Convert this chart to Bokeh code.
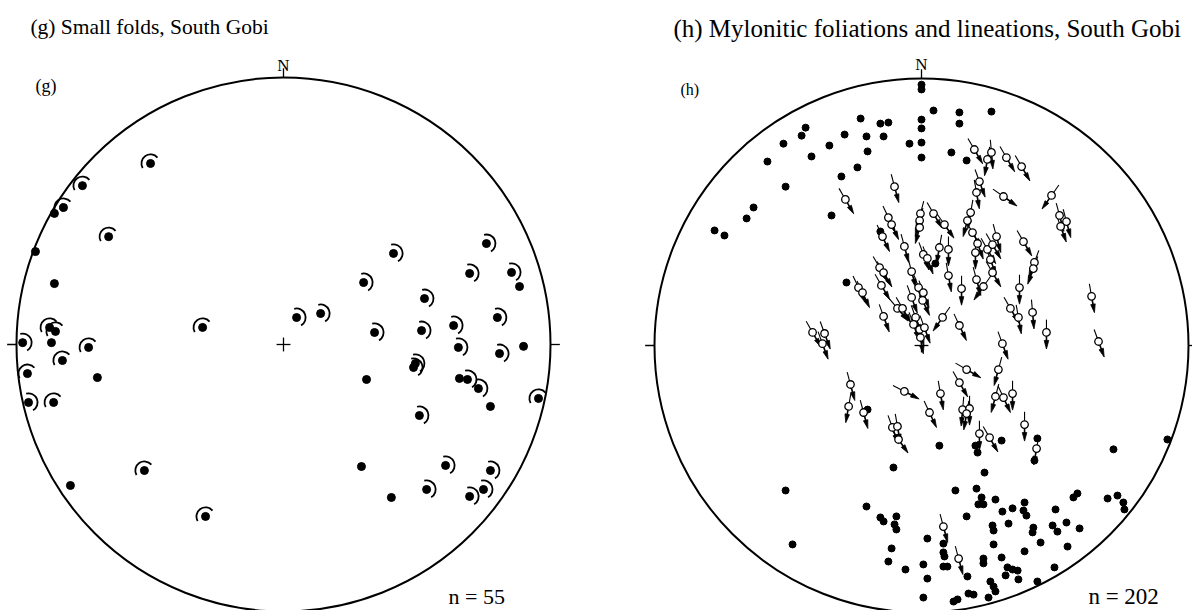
import math
from bokeh.plotting import figure
from bokeh.layouts import row
from bokeh.models import Range1d, ColumnDataSource
from bokeh.core.properties import value
from bokeh.embed import file_html
from bokeh.resources import INLINE

# ---------------- data (equal-area net coordinates, net radius = 100) ----------------
# (g) small folds: fold-axis positions and sense of vergence arc (L / R / "" = none)
g_east = [-49.8, -75.3, -82.4, -85.8, -65.5, -92.9, -85.8, -87.6, -85.4, -97.7,
          -86.9, -73.0, -82.8, -69.7, -95.9, -95.5, -86.1, -30.3, 4.9, 13.9,
          41.2, 30.0, 52.8, 34.1, 51.7, 63.7, 76.0, 69.7, 85.4, 88.4,
          80.1, 65.5, 80.9, 89.9, 48.7, 49.4, 31.1, 65.9, 68.9, 73.0,
          95.5, 77.5, 50.9, 29.2, 60.7, 77.5, 53.6, 40.4, 69.7, 74.9,
          -52.1, -79.8, -29.2]
g_north = [67.8, 59.5, 51.3, 49.1, 40.4, 34.8, 22.8, 6.4, 4.9, 0.7,
           0.7, -1.1, -6.0, -12.4, -10.9, -21.7, -21.7, 6.4, 10.1, 11.6,
           34.1, 23.2, 17.2, 4.5, 5.2, 7.1, 37.8, 26.6, 27.0, 21.7,
           10.1, -1.1, -3.4, -0.7, -8.6, -7.1, -13.1, -12.7, -13.1, -16.5,
           -20.2, -23.2, -26.6, -45.7, -45.3, -47.2, -54.3, -57.3, -56.9, -54.3,
           -47.2, -52.8, -64.4]
g_sense = ["L", "L", "L", "", "L", "", "", "L", "L", "R",
           "", "L", "L", "", "L", "R", "L", "L", "R", "R",
           "R", "R", "R", "R", "R", "R", "R", "R", "R", "",
           "R", "R", "R", "", "R", "R", "", "", "R", "R",
           "L", "", "R", "", "R", "R", "R", "", "R", "R",
           "L", "", "L"]

# (h) poles to mylonitic foliation
h_pole_east = [0, 0, 4.5, 14.2, 26.2, -22.8, -15.4, -12.4, 0, 14.2,
               -43.4, -44.9, -28.8, -20.6, -14.2, 0, -51.7, -34.5, -4.5, 0,
               -20.2, -57.7, -41.2, 0, 11.2, 16.9, -24.0, -30.0, -50.9, -62.9,
               -65.5, -33.7, -77.5, -73.8, -15.4, 5.2, -28.1,
               -20.2, 6.7, 30.0, 20.2, 21.0, 43.4, 42.3, -10.5, 23.6, 71.9,
               92.1, -50.9, 12.7, 20.6, 22.5, 21.3, 23.2, 27.7, 38.6, 38.2,
               39.3, 34.1, 30.3, 50.2, 58.4, 56.9, 69.7, 73.4, 75.6, 76.0,
               -20.6, -15.4, -14.2, -9.4, -10.1, -9.4, 16.9, 26.6, 27.0, 32.6,
               41.9, 41.6, 49.1, 50.9, 54.3, 59.2, -48.3, 2.2, 8.2, 27.0,
               44.6, 54.7, -11.2, 8.2, 8.6, 23.2, 23.2, 30.0, 38.6, -12.4,
               0.7, 8.2, 9.7, -6.0, 17.2, 32.2, 34.1, 31.5, 36.0, 49.8,
               2.2, 25.8, 27.0, 27.7, 36.3, 43.4, 0.7, 12.0, 13.5, 17.6,
               19.5, 25.1]
h_pole_north = [97.7, 95.9, 88.0, 87.3, 87.6, 85.0, 83.1, 83.5, 84.6, 83.1,
                81.6, 78.6, 79.0, 78.3, 78.3, 81.3, 75.6, 74.9, 75.6, 76.0,
                72.7, 68.9, 70.8, 70.4, 72.3, 69.3, 66.7, 63.3, 59.5, 51.7,
                47.6, 48.7, 43.1, 41.2, 42.7, 30.7, 23.6,
                -24.0, -37.5, -35.6, -37.5, -40.1, -34.8, -43.1, -45.7, -47.6, -38.9,
                -35.2, -54.3, -54.3, -53.6, -56.9, -59.5, -59.5, -57.7, -58.8, -61.8,
                -63.7, -61.0, -62.2, -61.4, -55.4, -56.9, -57.3, -56.2, -58.8, -61.4,
                -60.3, -64.4, -65.9, -64.0, -67.0, -68.9, -64.0, -67.4, -69.3, -66.7,
                -68.2, -70.0, -67.4, -69.7, -66.3, -68.5, -74.5, -72.3, -74.2, -74.5,
                -73.8, -75.3, -76.0, -77.5, -79.0, -79.8, -81.6, -79.4, -77.1, -80.9,
                -82.0, -82.8, -82.8, -83.9, -86.5, -83.1, -83.9, -86.1, -84.3, -83.1,
                -87.3, -88.4, -90.3, -92.1, -87.6, -88.4, -94.4, -95.9, -95.1, -92.9,
                -93.3, -94.4]

# (h) stretching lineations: position and azimuth of the arrow (degrees from N)
h_lin_east = [-10.1, -28.5, -12.4, -11.2, -14.6, -6.4, -0.4, -0.7, -0.7, 4.5,
              8.6, 0.7, 2.2, -15.7, -14.2, -3.7, -23.6, -22.1, -15.0, -1.1,
              0.7, -3.7, 0.4, -9.0, -7.1, -14.2, -2.2, -3.0, -0.7, 1.1,
              -0.4, -40.8, -36.3, -37.1, 19.8, 26.2, 24.7, 31.8, 37.5, 21.7,
              20.6, 30.7, 48.7, 51.7, 54.3, 52.1, 18.4, 17.2, 19.1, 28.1,
              38.2, 21.0, 20.2, 24.7, 26.6, 6.7, 10.1, 25.8, 42.3, 41.9,
              26.6, 10.1, 20.6, 23.2, 15.0, 36.7, 63.7, 33.3, 36.3, 41.6,
              7.9, 14.2, 46.8, 66.3, 30.3, -26.6, -27.3, -21.7, -10.9, -9.0,
              -8.6, -6.4, 3.0, 7.1, 14.2, 16.9, 15.4, 18.0, 16.9, 21.7,
              25.5, 28.8, 27.7, 30.7, 34.1, 38.6, 43.1, 8.2, 13.9]
h_lin_north = [59.5, 54.7, 47.9, 45.3, 40.8, 37.1, 49.4, 46.8, 44.2, 49.4,
               45.3, 34.1, 32.6, 29.2, 27.3, 27.7, 21.7, 19.8, 22.5, 21.7,
               19.8, 18.0, 16.9, 13.9, 13.9, 10.9, 10.5, 7.9, 6.0, 6.7,
               3.0, 4.9, 4.5, 0.7, 73.4, 72.3, 69.7, 70.4, 67.0, 61.4,
               57.3, 55.8, 56.2, 48.7, 46.4, 44.6, 49.8, 46.8, 42.3, 40.8,
               38.9, 38.2, 34.8, 36.0, 37.8, 36.7, 36.0, 32.2, 31.1, 28.8,
               27.3, 26.2, 24.7, 22.1, 21.3, 21.7, 18.4, 13.9, 10.5, 12.4,
               10.5, 7.5, 4.9, 1.5, 0.7, -14.6, -22.8, -25.1, -30.7, -30.3,
               -35.2, -17.2, -25.1, -18.0, -13.9, -9.0, -24.0, -23.6, -25.5, -33.0,
               -34.5, -9.0, -19.1, -19.5, -18.0, -29.6, -38.6, -67.8, -79.8]
h_lin_az = [165, 150, 155, 155, 155, 165, 195, 195, 195, 150,
            145, 160, 160, 150, 150, 165, 155, 155, 150, 160,
            160, 160, 155, 140, 150, 160, 160, 160, 165, 160,
            170, 150, 160, 160, 150, 175, 190, 150, 150, 160,
            170, 125, 215, 165, 165, 160, 190, 195, 150, 165,
            150, 160, 180, 150, 150, 190, 180, 160, 200, 200,
            150, 170, 165, 215, 180, 180, 170, 150, 170, 175,
            215, 155, 180, 160, 160, 165, 190, 165, 160, 170,
            145, 117, 155, 170, 150, 120, 185, 180, 190, 180,
            150, 195, 195, 155, 180, 180, 190, 165, 165]

g_title = "(g) Small folds, South Gobi"
h_title = "(h) Mylonitic foliations and lineations, South Gobi"
g_label, h_label = "(g)", "(h)"
g_count, h_count = "n = 55", "n = 202"

SERIF = value("Liberation Serif")
FIG_W, FIG_H = 596, 610
PX = 2.67  # screen pixels per net unit


def net_figure(page_x0, cx, cy):
    """Figure whose data units are net units (radius 100), centred on the net."""
    x0 = (page_x0 - cx) / PX
    x1 = (page_x0 + FIG_W - cx) / PX
    y1 = cy / PX
    y0 = (cy - FIG_H) / PX
    p = figure(width=FIG_W, height=FIG_H, x_range=Range1d(x0, x1), y_range=Range1d(y0, y1),
               output_backend="svg", toolbar_location=None, min_border=0,
               x_axis_location=None, y_axis_location=None,
               background_fill_color="white", border_fill_color="white")
    p.grid.visible = False
    p.outline_line_color = None
    # primitive circle, cardinal ticks and centre cross
    p.circle(x=[0], y=[0], radius=100, fill_color=None, line_color="black", line_width=2)
    p.segment(x0=[0, -100, 100, -2.6, 0], y0=[100, 0, 0, 0, -2.6],
              x1=[0, -103.5, 103.5, 2.6, 0], y1=[103.5, 0, 0, 0, 2.6],
              line_color="black", line_width=1.3)
    return p


def txt(p, x, y, s, size, align="left"):
    p.text(x=[x], y=[y], text=[s], text_font=SERIF, text_font_size=size,
           text_align=align, text_baseline="alphabetic", text_color="black")


# ---------------- (g) ----------------
pg = net_figure(0, 283, 344)
arc_x, arc_y, arc_s, arc_e = [], [], [], []
for e, n, s in zip(g_east, g_north, g_sense):
    if s == "L":
        arc_x.append(e); arc_y.append(n)
        arc_s.append(math.radians(40)); arc_e.append(math.radians(210))
    elif s == "R":
        arc_x.append(e); arc_y.append(n)
        arc_s.append(math.radians(-60)); arc_e.append(math.radians(105))
pg.arc(x="x", y="y", radius=3.4, start_angle="s", end_angle="e",
       source=ColumnDataSource(dict(x=arc_x, y=arc_y, s=arc_s, e=arc_e)),
       line_color="black", line_width=1.8)
pg.scatter(x=g_east, y=g_north, size=8, color="black")
txt(pg, -94.8, 119.1, g_title, "21.5px")
txt(pg, 0, 104.6, "N", "17px", "center")
txt(pg, -92.9, 97.0, g_label, "18px")
txt(pg, 61.8, -94.2, g_count, "22px")

# ---------------- (h) ----------------
ph = net_figure(596, 921, 345)
TAIL, SHAFT, HEAD_BASE, HEAD_TIP, HEAD_HALF = 4.8, 3.4, 3.0, 6.2, 0.85
tx0, ty0, tx1, ty1 = [], [], [], []
sx0, sy0, sx1, sy1 = [], [], [], []
head_xs, head_ys = [], []
for e, n, az in zip(h_lin_east, h_lin_north, h_lin_az):
    a = math.radians(az)
    dx, dy = math.sin(a), math.cos(a)
    tx0.append(e - dx * TAIL); ty0.append(n - dy * TAIL); tx1.append(e); ty1.append(n)
    sx0.append(e); sy0.append(n); sx1.append(e + dx * SHAFT); sy1.append(n + dy * SHAFT)
    bx, by = e + dx * HEAD_BASE, n + dy * HEAD_BASE
    head_xs.append([bx - dy * HEAD_HALF, e + dx * HEAD_TIP, bx + dy * HEAD_HALF])
    head_ys.append([by + dx * HEAD_HALF, n + dy * HEAD_TIP, by - dx * HEAD_HALF])

ph.scatter(x=h_pole_east, y=h_pole_north, size=7, color="black")
ph.segment(x0=tx0, y0=ty0, x1=tx1, y1=ty1, line_color="black", line_width=1.1)
ph.segment(x0=sx0, y0=sy0, x1=sx1, y1=sy1, line_color="black", line_width=1.6)
ph.patches(xs=head_xs, ys=head_ys, fill_color="black", line_color="black", line_width=0.8)
ph.scatter(x=h_lin_east, y=h_lin_north, size=7.5, fill_color="white",
           line_color="black", line_width=1.3)
txt(ph, -92.9, 118.7, h_title, "25px")
txt(ph, 0, 105.3, "N", "17px", "center")
txt(ph, -90.3, 95.9, h_label, "16px")
txt(ph, 62.5, -94.0, h_count, "23px")

layout = row(pg, ph)
open("out.html", "w").write(file_html(layout, INLINE))
